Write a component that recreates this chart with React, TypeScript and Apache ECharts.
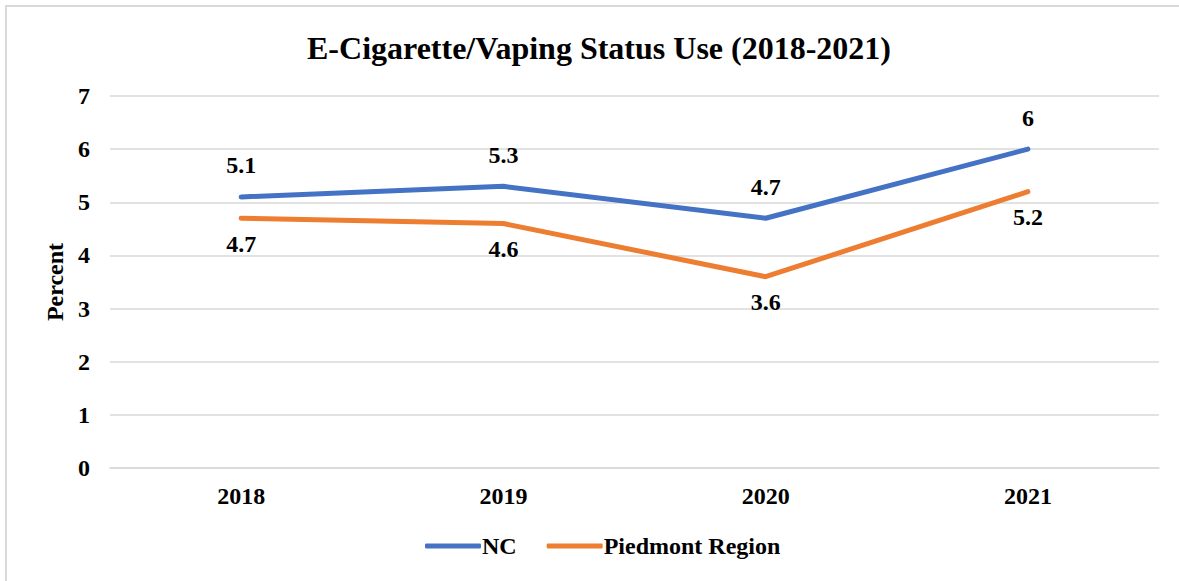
import React, { useEffect, useRef } from "react";
import * as echarts from "echarts";

const years = ["2018", "2019", "2020", "2021"];
const ncValues = [5.1, 5.3, 4.7, 6];
const piedmontValues = [4.7, 4.6, 3.6, 5.2];
const yTicks = { min: 0, max: 7, interval: 1 };

const FONT = '"Liberation Serif", "Times New Roman", serif';

export default function App() {
  const ref = useRef<HTMLDivElement>(null);
  useEffect(() => {
    if (!ref.current) return;
    const chart = echarts.init(ref.current, undefined, { renderer: "svg" });
    const labelStyle = {
      fontFamily: FONT,
      fontWeight: "bold" as const,
      fontSize: 24,
      color: "#000",
    };
    chart.setOption({
      animation: false,
      backgroundColor: "#fff",
      graphic: [
        {
          type: "rect",
          shape: { x: 6, y: 6, width: 1300, height: 700 },
          style: { fill: "none", stroke: "#d9d9d9", lineWidth: 2 },
          silent: true,
        },
      ],
      title: {
        text: "E-Cigarette/Vaping Status Use (2018-2021)",
        left: 594,
        top: 27,
        textAlign: "center",
        textStyle: { fontFamily: FONT, fontWeight: "bold", fontSize: 32, color: "#000" },
      },
      legend: {
        bottom: 18,
        left: 420,
        itemWidth: 56,
        itemHeight: 5,
        itemGap: 30,
        icon: "roundRect",
        textStyle: { ...labelStyle, padding: [0, 0, 0, -4] },
        data: ["NC", "Piedmont Region"],
      },
      grid: { left: 110, right: 20, top: 96, bottom: 113 },
      xAxis: {
        type: "category",
        data: years,
        boundaryGap: true,
        axisLine: { show: true, lineStyle: { color: "#d9d9d9", width: 1.5 } },
        axisTick: { show: false },
        axisLabel: { ...labelStyle, margin: 16 },
      },
      yAxis: {
        type: "value",
        min: yTicks.min,
        max: yTicks.max,
        interval: yTicks.interval,
        name: "Percent",
        nameLocation: "middle",
        nameRotate: 90,
        nameGap: 43,
        nameTextStyle: labelStyle,
        axisLine: { show: false },
        axisTick: { show: false },
        axisLabel: { ...labelStyle, margin: 20 },
        splitLine: { lineStyle: { color: "#d9d9d9", width: 1.5 } },
      },
      series: [
        {
          name: "NC",
          type: "line",
          data: ncValues,
          symbol: "circle",
          symbolSize: 3,
          showSymbol: true,
          lineStyle: { color: "#4472C4", width: 5, cap: "round" },
          itemStyle: { color: "#4472C4" },
          label: { show: true, position: "top", distance: 18, ...labelStyle },
        },
        {
          name: "Piedmont Region",
          type: "line",
          data: piedmontValues,
          symbol: "circle",
          symbolSize: 3,
          showSymbol: true,
          lineStyle: { color: "#ED7D31", width: 5, cap: "round" },
          itemStyle: { color: "#ED7D31" },
          label: { show: true, position: "bottom", distance: 12, ...labelStyle },
        },
      ],
    });
    return () => chart.dispose();
  }, []);
  return (
    <div
      ref={ref}
      style={{ position: "absolute", left: 0, top: 0, width: 1179, height: 581 }}
    />
  );
}
